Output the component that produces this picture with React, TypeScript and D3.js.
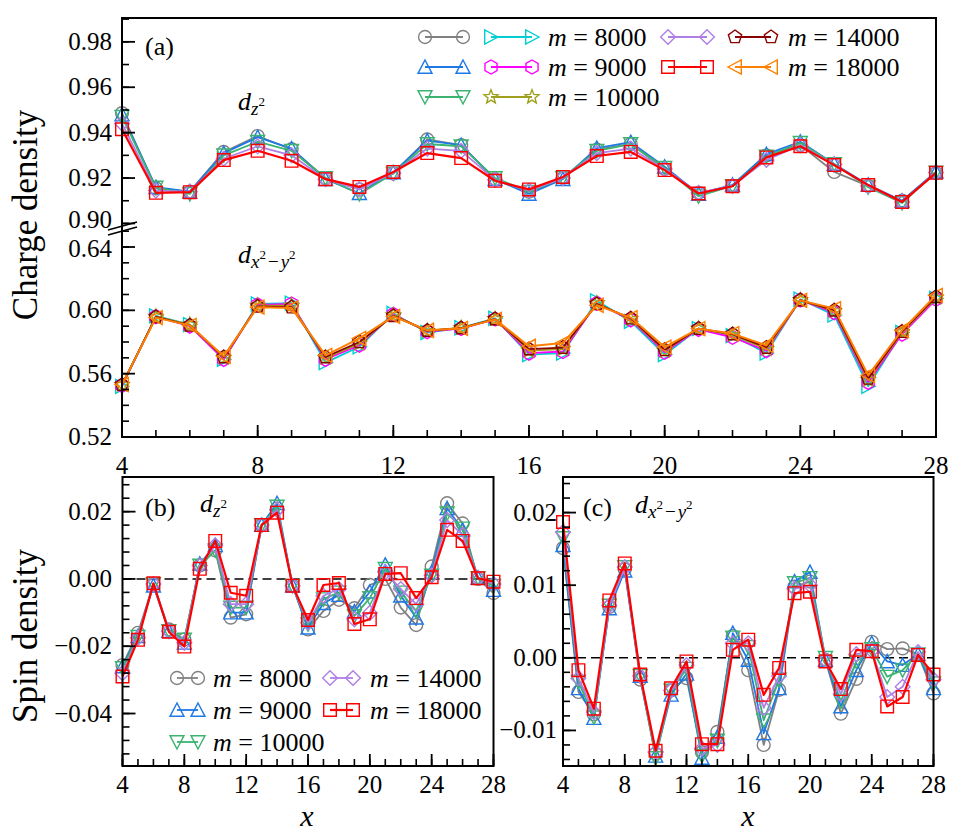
import React from "react";
import * as d3 from "d3";

const FONT = "'Liberation Serif', 'Times New Roman', serif";

// ---------- data ----------
const sites = [4, 5, 6, 7, 8, 9, 10, 11, 12, 13, 14, 15, 16, 17, 18, 19, 20, 21, 22, 23, 24, 25, 26, 27, 28];

// (a) charge density, d_z2 orbital
const chargeZ_8000 = [0.9486, 0.9155, 0.9140, 0.9315, 0.9385, 0.9327, 0.9200, 0.9150, 0.9220, 0.9370, 0.9345, 0.9195, 0.9140, 0.9200, 0.9325, 0.9350, 0.9240, 0.9135, 0.9165, 0.9300, 0.9345, 0.9227, 0.9165, 0.9100, 0.9222];
const chargeZ_9000 = [0.9480, 0.9160, 0.9140, 0.9310, 0.9380, 0.9330, 0.9195, 0.9133, 0.9225, 0.9365, 0.9345, 0.9195, 0.9130, 0.9195, 0.9332, 0.9358, 0.9250, 0.9130, 0.9170, 0.9305, 0.9360, 0.9262, 0.9170, 0.9100, 0.9228];
const chargeZ_10000 = [0.9470, 0.9158, 0.9130, 0.9300, 0.9360, 0.9320, 0.9200, 0.9130, 0.9220, 0.9350, 0.9340, 0.9200, 0.9140, 0.9200, 0.9320, 0.9350, 0.9245, 0.9120, 0.9165, 0.9295, 0.9355, 0.9262, 0.9160, 0.9090, 0.9225];
const chargeZ_14000 = [0.9440, 0.9145, 0.9140, 0.9285, 0.9340, 0.9300, 0.9195, 0.9150, 0.9222, 0.9330, 0.9320, 0.9192, 0.9145, 0.9200, 0.9310, 0.9330, 0.9240, 0.9135, 0.9165, 0.9280, 0.9345, 0.9260, 0.9165, 0.9095, 0.9225];
const chargeZ_18000 = [0.9415, 0.9135, 0.9138, 0.9279, 0.9320, 0.9276, 0.9195, 0.9161, 0.9227, 0.9310, 0.9288, 0.9188, 0.9150, 0.9205, 0.9297, 0.9315, 0.9235, 0.9132, 0.9164, 0.9291, 0.9340, 0.9257, 0.9169, 0.9095, 0.9223];

// (a) charge density, d_x2-y2 orbital
const chargeX_8000 = [0.5520, 0.5965, 0.5910, 0.5690, 0.6040, 0.6045, 0.5670, 0.5770, 0.5980, 0.5860, 0.5890, 0.5950, 0.5720, 0.5730, 0.6060, 0.5930, 0.5720, 0.5885, 0.5840, 0.5730, 0.6070, 0.5970, 0.5520, 0.5860, 0.6075];
const chargeX_9000 = [0.5525, 0.5960, 0.5900, 0.5690, 0.6035, 0.6040, 0.5690, 0.5780, 0.5975, 0.5865, 0.5885, 0.5945, 0.5730, 0.5740, 0.6045, 0.5940, 0.5735, 0.5880, 0.5830, 0.5745, 0.6065, 0.5985, 0.5545, 0.5850, 0.6070];
const chargeX_10000 = [0.5530, 0.5960, 0.5910, 0.5700, 0.6030, 0.6030, 0.5700, 0.5790, 0.5970, 0.5870, 0.5890, 0.5945, 0.5745, 0.5755, 0.6045, 0.5945, 0.5745, 0.5885, 0.5845, 0.5755, 0.6065, 0.5995, 0.5560, 0.5860, 0.6080];
const chargeX_14000 = [0.5530, 0.5958, 0.5905, 0.5705, 0.6025, 0.6020, 0.5705, 0.5800, 0.5965, 0.5872, 0.5888, 0.5945, 0.5755, 0.5765, 0.6040, 0.5950, 0.5750, 0.5885, 0.5850, 0.5765, 0.6065, 0.6000, 0.5570, 0.5865, 0.6085];
const chargeX_18000 = [0.5531, 0.5954, 0.5905, 0.5710, 0.6020, 0.6015, 0.5716, 0.5823, 0.5962, 0.5874, 0.5886, 0.5943, 0.5773, 0.5794, 0.6032, 0.5954, 0.5768, 0.5884, 0.5853, 0.5779, 0.6063, 0.6011, 0.5590, 0.5874, 0.6095];

// (b) spin density, d_z2
const spinZ_8000 = [-0.0256, -0.0160, -0.0015, -0.0150, -0.0180, 0.0040, 0.0085, -0.0115, -0.0105, 0.0160, 0.0210, -0.0020, -0.0150, -0.0095, -0.0062, -0.0087, -0.0018, 0.0000, -0.0085, -0.0137, 0.0037, 0.0225, 0.0165, 0.0000, -0.0042];
const spinZ_9000 = [-0.0260, -0.0170, -0.0020, -0.0155, -0.0190, 0.0045, 0.0100, -0.0100, -0.0100, 0.0160, 0.0225, -0.0020, -0.0145, -0.0072, -0.0048, -0.0097, -0.0038, 0.0042, -0.0050, -0.0115, 0.0020, 0.0210, 0.0146, 0.0003, -0.0033];
const spinZ_10000 = [-0.0265, -0.0172, -0.0015, -0.0155, -0.0180, 0.0040, 0.0085, -0.0085, -0.0085, 0.0160, 0.0215, -0.0020, -0.0135, -0.0060, -0.0040, -0.0110, -0.0057, 0.0030, -0.0040, -0.0095, 0.0010, 0.0195, 0.0150, 0.0003, -0.0020];
const spinZ_14000 = [-0.0280, -0.0175, -0.0015, -0.0155, -0.0190, 0.0040, 0.0100, -0.0075, -0.0075, 0.0160, 0.0205, -0.0020, -0.0130, -0.0050, -0.0030, -0.0120, -0.0101, 0.0020, -0.0030, -0.0075, 0.0010, 0.0175, 0.0130, 0.0003, -0.0015];
const spinZ_18000 = [-0.0290, -0.0181, -0.0013, -0.0157, -0.0201, 0.0030, 0.0113, -0.0041, -0.0050, 0.0160, 0.0197, -0.0020, -0.0122, -0.0018, -0.0012, -0.0134, -0.0120, 0.0015, 0.0017, -0.0057, 0.0005, 0.0146, 0.0113, 0.0002, -0.0008];

// (c) spin density, d_x2-y2
const spinX_8000 = [0.0151, -0.0047, -0.0078, 0.0070, 0.0122, -0.0030, -0.0132, -0.0045, -0.0028, -0.0130, -0.0102, 0.0030, -0.0017, -0.0120, -0.0044, 0.0098, 0.0105, -0.0003, -0.0077, -0.0029, 0.0022, 0.0012, 0.0013, 0.0005, -0.0049];
const spinX_9000 = [0.0155, -0.0042, -0.0083, 0.0068, 0.0120, -0.0025, -0.0135, -0.0051, -0.0022, -0.0138, -0.0109, 0.0034, -0.0003, -0.0104, -0.0042, 0.0105, 0.0118, -0.0003, -0.0067, -0.0017, 0.0020, -0.0005, -0.0010, 0.0005, -0.0042];
const spinX_10000 = [0.0165, -0.0033, -0.0082, 0.0072, 0.0125, -0.0025, -0.0138, -0.0045, -0.0015, -0.0135, -0.0114, 0.0028, 0.0015, -0.0086, -0.0030, 0.0103, 0.0110, 0.0000, -0.0060, -0.0005, 0.0012, -0.0026, -0.0017, 0.0005, -0.0035];
const spinX_14000 = [0.0173, -0.0028, -0.0075, 0.0072, 0.0125, -0.0025, -0.0130, -0.0045, -0.0010, -0.0125, -0.0120, 0.0020, 0.0020, -0.0069, -0.0025, 0.0095, 0.0100, -0.0003, -0.0050, 0.0005, 0.0010, -0.0054, -0.0040, 0.0008, -0.0030];
const spinX_18000 = [0.0187, -0.0017, -0.0070, 0.0079, 0.0130, -0.0023, -0.0128, -0.0042, -0.0005, -0.0119, -0.0119, 0.0011, 0.0025, -0.0051, -0.0014, 0.0089, 0.0091, -0.0005, -0.0043, 0.0011, 0.0009, -0.0067, -0.0054, 0.0004, -0.0023];

const bondDims = ["8000", "9000", "10000", "14000", "18000"];

// tick values
const xMajor = [4, 8, 12, 16, 20, 24, 28];
const xMinor = sites;
const aUpMajor = [0.90, 0.92, 0.94, 0.96, 0.98];
const aUpMinor = [0.90, 0.91, 0.92, 0.93, 0.94, 0.95, 0.96, 0.97, 0.98, 0.99];
const aLowMajor = [0.52, 0.56, 0.60, 0.64];
const aLowMinor = [0.52, 0.53, 0.54, 0.55, 0.56, 0.57, 0.58, 0.59, 0.60, 0.61, 0.62, 0.63, 0.64, 0.65];
const bMajor = [-0.04, -0.02, 0.0, 0.02];
const bMinor = [-0.052, -0.048, -0.044, -0.04, -0.036, -0.032, -0.028, -0.024, -0.02, -0.016, -0.012, -0.008, -0.004, 0, 0.004, 0.008, 0.012, 0.016, 0.02, 0.024, 0.028];
const cMajor = [-0.01, 0.0, 0.01, 0.02];
const cMinor = [-0.014, -0.012, -0.01, -0.008, -0.006, -0.004, -0.002, 0, 0.002, 0.004, 0.006, 0.008, 0.01, 0.012, 0.014, 0.016, 0.018, 0.02, 0.022, 0.024];

// ---------- styles ----------
type Shape = "o" | "^" | "v" | "D" | "s" | ">" | "<" | "h" | "p" | "*";
interface Style { color: string; shape: Shape; lw: number; }

const zStyles: Style[] = [
  { color: "#808080", shape: "o", lw: 1.8 },
  { color: "#1e78e6", shape: "^", lw: 1.8 },
  { color: "#3cb371", shape: "v", lw: 1.8 },
  { color: "#b07fe6", shape: "D", lw: 1.8 },
  { color: "#ff0000", shape: "s", lw: 2.2 },
];
const xStyles: Style[] = [
  { color: "#00ced1", shape: ">", lw: 1.8 },
  { color: "#ff00ff", shape: "h", lw: 1.8 },
  { color: "#a0a01e", shape: "*", lw: 1.8 },
  { color: "#8b0000", shape: "p", lw: 1.8 },
  { color: "#ff8000", shape: "<", lw: 2.0 },
];

function poly(pts: [number, number][]): string {
  return "M" + pts.map((p) => p[0].toFixed(2) + "," + p[1].toFixed(2)).join("L") + "Z";
}
function regular(n: number, r: number, rot: number): [number, number][] {
  const pts: [number, number][] = [];
  for (let k = 0; k < n; k++) {
    const a = rot + (k * 2 * Math.PI) / n;
    pts.push([r * Math.cos(a), r * Math.sin(a)]);
  }
  return pts;
}
function markerPath(shape: Shape, s: number): string {
  switch (shape) {
    case "o": {
      const r = s * 0.92;
      return `M${r},0A${r},${r} 0 1,1 ${-r},0A${r},${r} 0 1,1 ${r},0Z`;
    }
    case "^": return poly([[0, -s], [s, s * 0.9], [-s, s * 0.9]]);
    case "v": return poly([[0, s], [s, -s * 0.9], [-s, -s * 0.9]]);
    case ">": return poly([[s, 0], [-s * 0.9, -s], [-s * 0.9, s]]);
    case "<": return poly([[-s, 0], [s * 0.9, -s], [s * 0.9, s]]);
    case "s": { const h = s * 0.9; return poly([[-h, -h], [h, -h], [h, h], [-h, h]]); }
    case "D": { const h = s * 1.05; return poly([[0, -h], [h, 0], [0, h], [-h, 0]]); }
    case "h": return poly(regular(6, s, -Math.PI / 2));
    case "p": return poly(regular(5, s, -Math.PI / 2));
    case "*": {
      const outer = regular(5, s * 1.05, -Math.PI / 2);
      const inner = regular(5, s * 0.45, -Math.PI / 2 + Math.PI / 5);
      const pts: [number, number][] = [];
      for (let k = 0; k < 5; k++) { pts.push(outer[k]); pts.push(inner[k]); }
      return poly(pts);
    }
  }
  return "";
}

type Scale = d3.ScaleLinear<number, number>;

function Series({ xs, ys, values, st, size = 7 }: { xs: Scale; ys: Scale; values: number[]; st: Style; size?: number }) {
  const line = d3.line<number>().x((_, i) => xs(sites[i])).y((d) => ys(d));
  return (
    <g>
      <path d={line(values) || ""} fill="none" stroke={st.color} strokeWidth={st.lw} strokeLinejoin="round" />
      {values.map((v, i) => (
        <path key={i} transform={`translate(${xs(sites[i])},${ys(v)})`} d={markerPath(st.shape, size)}
          fill="none" stroke={st.color} strokeWidth={1.4} strokeLinejoin="miter" />
      ))}
    </g>
  );
}

function YAxis({ ys, x, majors, minors, fmt, labelEnd, nudge }: { ys: Scale; x: number; majors: number[]; minors: number[]; fmt: (v: number) => string; labelEnd: number; nudge?: (v: number) => number }) {
  return (
    <g>
      {minors.map((v, i) => (
        <line key={"m" + i} x1={x} x2={x + 7} y1={ys(v)} y2={ys(v)} stroke="#000" strokeWidth={1.6} />
      ))}
      {majors.map((v, i) => (
        <g key={"M" + i}>
          <line x1={x} x2={x + 13} y1={ys(v)} y2={ys(v)} stroke="#000" strokeWidth={1.8} />
          <text x={labelEnd} y={ys(v) + 8 + (nudge ? nudge(v) : 0)} textAnchor="end" fontSize={25} fontFamily={FONT}>{fmt(v)}</text>
        </g>
      ))}
    </g>
  );
}

function XAxis({ xs, y, labelY }: { xs: Scale; y: number; labelY: number }) {
  return (
    <g>
      {xMinor.map((v, i) => (
        <line key={"m" + i} x1={xs(v)} x2={xs(v)} y1={y} y2={y - 7} stroke="#000" strokeWidth={1.6} />
      ))}
      {xMajor.map((v, i) => (
        <g key={"M" + i}>
          <line x1={xs(v)} x2={xs(v)} y1={y} y2={y - 12} stroke="#000" strokeWidth={1.8} />
          <text x={xs(v)} y={labelY} textAnchor="middle" fontSize={25} fontFamily={FONT}>{String(v)}</text>
        </g>
      ))}
    </g>
  );
}

function LegendEntry({ x1, x2, y, st, size = 7 }: { x1: number; x2: number; y: number; st: Style; size?: number }) {
  return (
    <g>
      <line x1={x1} x2={x2} y1={y} y2={y} stroke={st.color} strokeWidth={st.lw} />
      {[x1, x2].map((x, i) => (
        <path key={i} transform={`translate(${x},${y})`} d={markerPath(st.shape, size)} fill="none" stroke={st.color} strokeWidth={1.4} />
      ))}
    </g>
  );
}

function MLabel({ x, y, m, size = 26 }: { x: number; y: number; m: string; size?: number }) {
  return (
    <text x={x} y={y} fontSize={size} fontFamily={FONT}>
      <tspan fontStyle="italic">m</tspan>
      <tspan> = {m}</tspan>
    </text>
  );
}

function DZ({ x, y }: { x: number; y: number }) {
  return (
    <text x={x} y={y} fontSize={26} fontFamily={FONT}>
      <tspan fontStyle="italic">d</tspan>
      <tspan fontStyle="italic" fontSize={19} dy={5}>z</tspan>
      <tspan fontSize={13} dy={-9}>2</tspan>
    </text>
  );
}
function DX({ x, y }: { x: number; y: number }) {
  return (
    <text x={x} y={y} fontSize={26} fontFamily={FONT}>
      <tspan fontStyle="italic">d</tspan>
      <tspan fontStyle="italic" fontSize={19} dy={5}>x</tspan>
      <tspan fontSize={13} dy={-9}>2</tspan>
      <tspan fontSize={19} dy={9} dx={2}>−</tspan>
      <tspan fontStyle="italic" fontSize={19} dx={2}>y</tspan>
      <tspan fontSize={13} dy={-9}>2</tspan>
    </text>
  );
}

export default function App() {
  const f2 = d3.format(".2f");

  // panel (a)
  const ax = d3.scaleLinear().domain([4, 28]).range([122, 936]);
  const ayUp = d3.scaleLinear().domain([0.898, 0.9905]).range([228, 18]);
  const ayLow = d3.scaleLinear().domain([0.52, 0.652]).range([437, 228]);
  // panel (b)
  const bx = d3.scaleLinear().domain([4, 28]).range([122.5, 493.5]);
  const by = d3.scaleLinear().domain([-0.0556, 0.0303]).range([766, 477]);
  // panel (c)
  const cx = d3.scaleLinear().domain([4, 28]).range([563, 933.5]);
  const cy = d3.scaleLinear().domain([-0.0149, 0.0249]).range([766, 477]);

  const chargeZ = [chargeZ_8000, chargeZ_9000, chargeZ_10000, chargeZ_14000, chargeZ_18000];
  const chargeX = [chargeX_8000, chargeX_9000, chargeX_10000, chargeX_14000, chargeX_18000];
  const spinZ = [spinZ_8000, spinZ_9000, spinZ_10000, spinZ_14000, spinZ_18000];
  const spinX = [spinX_8000, spinX_9000, spinX_10000, spinX_14000, spinX_18000];

  const legA = [
    { k: 0, row: 0, col: 0 }, { k: 3, row: 0, col: 1 },
    { k: 1, row: 1, col: 0 }, { k: 4, row: 1, col: 1 },
    { k: 2, row: 2, col: 0 },
  ];
  const legARows = [37, 67, 97];
  const legACols = [
    { h1: [425, 463], h2: [491, 532], tx: 548 },
    { h1: [668, 707], h2: [735, 771], tx: 788 },
  ];
  const legBRows = [678, 710, 742];
  const legBCols = [{ h: [177, 198], tx: 213 }, { h: [330, 353], tx: 370 }];

  return (
    <svg width={953} height={835} style={{ position: "absolute", left: 0, top: 0, background: "#fff" }}>
      <rect x={0} y={0} width={953} height={835} fill="#fff" />

      {/* ===== panel (a) ===== */}
      {chargeX.map((vals, i) => <Series key={"cx" + i} xs={ax} ys={ayLow} values={vals} st={xStyles[i]} />)}
      {chargeZ.map((vals, i) => <Series key={"cz" + i} xs={ax} ys={ayUp} values={vals} st={zStyles[i]} />)}
      <YAxis ys={ayUp} x={122} majors={aUpMajor} minors={aUpMinor} fmt={f2} labelEnd={112} nudge={(v) => (v < 0.91 ? -3 : 0)} />
      <YAxis ys={ayLow} x={122} majors={aLowMajor} minors={aLowMinor} fmt={f2} labelEnd={112} nudge={(v) => (v > 0.63 ? 2 : 0)} />
      <XAxis xs={ax} y={437} labelY={474} />
      <rect x={122} y={18} width={814} height={419} fill="none" stroke="#000" strokeWidth={2} />
      <line x1={108} y1={230} x2={137} y2={222} stroke="#000" strokeWidth={1.8} />
      <line x1={108} y1={235} x2={137} y2={227} stroke="#000" strokeWidth={1.8} />
      <text x={145} y={55} fontSize={26} fontFamily={FONT}>(a)</text>
      <DZ x={238} y={110} />
      <DX x={238} y={263} />
      <text transform="translate(37,215) rotate(-90)" textAnchor="middle" fontSize={35} fontFamily={FONT}>Charge density</text>

      {legA.map((e) => {
        const c = legACols[e.col];
        const y = legARows[e.row];
        return (
          <g key={"la" + e.k}>
            <LegendEntry x1={c.h1[0]} x2={c.h1[1]} y={y} st={zStyles[e.k]} />
            <LegendEntry x1={c.h2[0]} x2={c.h2[1]} y={y} st={xStyles[e.k]} />
            <MLabel x={c.tx} y={y + 9} m={bondDims[e.k]} />
          </g>
        );
      })}

      {/* ===== panel (b) ===== */}
      <line x1={122.5} x2={493.5} y1={by(0)} y2={by(0)} stroke="#000" strokeWidth={1.6} strokeDasharray="9,5" />
      {spinZ.map((vals, i) => <Series key={"sz" + i} xs={bx} ys={by} values={vals} st={zStyles[i]} />)}
      <YAxis ys={by} x={122.5} majors={bMajor} minors={bMinor} fmt={f2} labelEnd={112} />
      <XAxis xs={bx} y={766} labelY={793} />
      <rect x={122.5} y={477} width={371} height={289} fill="none" stroke="#000" strokeWidth={2} />
      <text x={145} y={516} fontSize={26} fontFamily={FONT}>(b)</text>
      <DZ x={200} y={512} />
      <text transform="translate(37,636) rotate(-90)" textAnchor="middle" fontSize={35} fontFamily={FONT}>Spin density</text>
      <text x={307} y={826} textAnchor="middle" fontSize={30} fontStyle="italic" fontFamily={FONT}>x</text>
      {legA.map((e) => {
        const c = legBCols[e.col];
        const y = legBRows[e.row];
        return (
          <g key={"lb" + e.k}>
            <LegendEntry x1={c.h[0]} x2={c.h[1]} y={y} st={zStyles[e.k]} />
            <MLabel x={c.tx} y={y + 9} m={bondDims[e.k]} />
          </g>
        );
      })}

      {/* ===== panel (c) ===== */}
      <line x1={563} x2={933.5} y1={cy(0)} y2={cy(0)} stroke="#000" strokeWidth={1.6} strokeDasharray="9,5" />
      {spinX.map((vals, i) => <Series key={"sx" + i} xs={cx} ys={cy} values={vals} st={zStyles[i]} />)}
      <YAxis ys={cy} x={563} majors={cMajor} minors={cMinor} fmt={f2} labelEnd={557} />
      <XAxis xs={cx} y={766} labelY={793} />
      <rect x={563} y={477} width={370.5} height={289} fill="none" stroke="#000" strokeWidth={2} />
      <text x={583} y={516} fontSize={26} fontFamily={FONT}>(c)</text>
      <DX x={635} y={513} />
      <text x={748} y={826} textAnchor="middle" fontSize={30} fontStyle="italic" fontFamily={FONT}>x</text>
    </svg>
  );
}
